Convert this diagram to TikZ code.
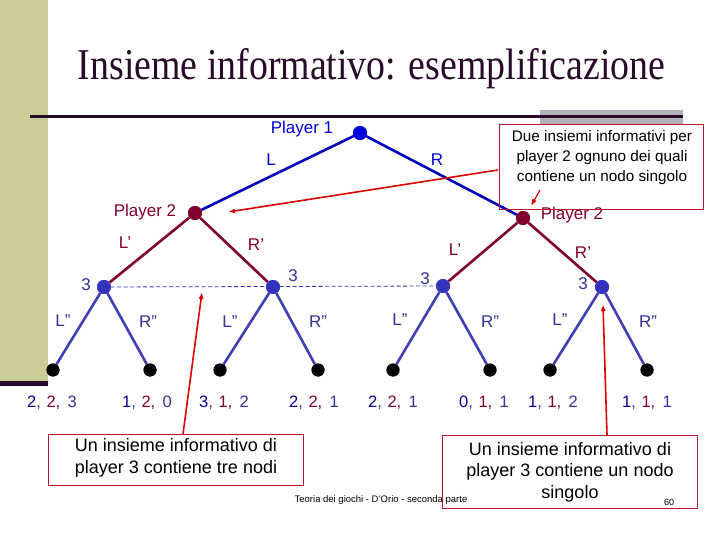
\documentclass[tikz,border=0pt]{standalone}
\usepackage{fontspec}
\usepackage{graphicx}
\setmainfont{Liberation Sans}
\newfontfamily\titlefont{Liberation Serif}
\usetikzlibrary{arrows.meta}
\definecolor{band}{RGB}{204,204,153}
\definecolor{darkline}{RGB}{42,10,42}
\definecolor{graybar}{RGB}{178,178,186}
\definecolor{pone}{RGB}{0,0,220}
\definecolor{ptwo}{RGB}{128,0,48}
\definecolor{pthree}{RGB}{51,51,190}
\definecolor{pthreeedge}{RGB}{64,64,180}
\definecolor{payA}{RGB}{0,0,150}
\definecolor{payB}{RGB}{128,0,48}
\definecolor{payC}{RGB}{51,51,153}
\definecolor{redarrow}{RGB}{220,0,0}
\definecolor{redbox}{RGB}{190,20,40}
\newcommand{\pay}[3]{{\color{payA}#1}{\color{payC},}\kern1pt\ {\color{payB}#2,}\ \,{\color{payC}#3}}
\tikzset{
  dot/.style={circle, inner sep=0pt, minimum size=14pt},
  ponenode/.style={dot, fill=pone},
  ptwonode/.style={dot, fill=ptwo},
  pthreenode/.style={dot, fill=pthree},
  leafnode/.style={dot, fill=black, minimum size=13pt},
  ponedge/.style={draw=pone!85!black, line width=2.6pt},
  ptwoedge/.style={draw=ptwo, line width=2.6pt},
  pthreeedge/.style={draw=pthreeedge, line width=2.6pt},
  lab/.style={font=\fontsize{17}{20}\selectfont, inner sep=0pt},
  paylab/.style={font=\fontsize{16.5}{20}\selectfont, inner sep=0pt},
  boxframe/.style={draw=redbox, line width=1pt, inner sep=0pt},
  redarr/.style={draw=redarrow, line width=1.6pt, -{Latex[length=7pt,width=5pt]}},
}
\begin{document}
\begin{tikzpicture}[x=1pt,y=-1pt]
\useasboundingbox (0,0) rectangle (720,540);
\fill[white] (0,0) rectangle (720,540);
% slide decoration
\fill[band] (0,0) rectangle (48,383);
\fill[darkline] (0,381) rectangle (48,386);
\fill[graybar] (540,110) rectangle (683,125);
\draw[darkline, line width=3pt] (30,117) -- (683,117);
% title
\node[inner sep=0pt, text=darkline] (title) at (371.5,69)
  {\scalebox{0.86}[1]{\titlefont\fontsize{44}{48}\selectfont Insieme informativo: esemplificazione}};

% tree nodes
\node[ponenode] (n1) at (360,133) {};
\node[ptwonode] (n2a) at (195,213) {};
\node[ptwonode] (n2b) at (523,218) {};
\node[pthreenode] (n3a) at (104,287) {};
\node[pthreenode] (n3b) at (273,287) {};
\node[pthreenode] (n3c) at (443,286) {};
\node[pthreenode] (n3d) at (602,287) {};
\foreach \i/\x in {1/53,2/150,3/220,4/318,5/393,6/490,7/550,8/647}
  \node[leafnode] (l\i) at (\x,370) {};

% information set (dashed)
\draw[pthree, line width=0.8pt, dash pattern=on 4pt off 2.5pt] (n3a.center) -- (n3c.center);

% edges
\draw[ponedge] (n1) -- (n2a);
\draw[ponedge] (n1) -- (n2b);
\draw[ptwoedge] (n2a) -- (n3a);
\draw[ptwoedge] (n2a) -- (n3b);
\draw[ptwoedge] (n2b) -- (n3c);
\draw[ptwoedge] (n2b) -- (n3d);
\draw[pthreeedge] (n3a) -- (l1);
\draw[pthreeedge] (n3a) -- (l2);
\draw[pthreeedge] (n3b) -- (l3);
\draw[pthreeedge] (n3b) -- (l4);
\draw[pthreeedge] (n3c) -- (l5);
\draw[pthreeedge] (n3c) -- (l6);
\draw[pthreeedge] (n3d) -- (l7);
\draw[pthreeedge] (n3d) -- (l8);
% redraw nodes on top
\node[ponenode] at (n1) {};
\node[ptwonode] at (n2a) {};
\node[ptwonode] at (n2b) {};
\foreach \n in {n3a,n3b,n3c,n3d} \node[pthreenode] at (\n) {};
\foreach \i in {1,...,8} \node[leafnode] at (l\i) {};

% labels
\node[lab, text=pone] (tp1) at (302,129) {Player 1};
\node[lab, text=pone] (tL) at (271,160) {L};
\node[lab, text=pone] (tR) at (437,160) {R};
\node[lab, text=ptwo] (tp2a) at (145,212) {Player 2};
\node[lab, text=ptwo] (tp2b) at (572,215) {Player 2};
\node[lab, text=ptwo] (tLa) at (125,243) {L’};
\node[lab, text=ptwo] (tRa) at (256,245) {R’};
\node[lab, text=ptwo] (tLb) at (455,250) {L’};
\node[lab, text=ptwo] (tRb) at (583,253) {R’};
\node[lab, text=payC] (t3a) at (86,285) {3};
\node[lab, text=payC] (t3b) at (293,276) {3};
\node[lab, text=payC] (t3c) at (425,279) {3};
\node[lab, text=payC] (t3d) at (583,284) {3};
\foreach \x/\y/\t in {63/321/L”,148/322/R”,230/322/L”,318/322/R”,400/320/L”,490/322/R”,560/320/L”,648/322/R”}
  \node[lab, text=payC] at (\x,\y) {\t};
% payoffs
\node[paylab] (pay1) at (52,403) {\pay{2}{2}{3}};
\node[paylab] (pay2) at (147,403) {\pay{1}{2}{0}};
\node[paylab] (pay3) at (224,403) {\pay{3}{1}{2}};
\node[paylab] (pay4) at (314,403) {\pay{2}{2}{1}};
\node[paylab] (pay5) at (393,403) {\pay{2}{2}{1}};
\node[paylab] (pay6) at (484,403) {\pay{0}{1}{1}};
\node[paylab] (pay7) at (553,403) {\pay{1}{1}{2}};
\node[paylab] (pay8) at (647,403) {\pay{1}{1}{1}};

% callout boxes
\node[boxframe, minimum width=204pt, minimum height=85pt] (box1) at (601,167.5) {};
\node[align=center, inner sep=0pt, font=\fontsize{15.3}{20}\selectfont] (box1t) at (602,158)
  {Due insiemi informativi per\\player 2 ognuno dei quali\\contiene un nodo singolo};
\node[boxframe, minimum width=255pt, minimum height=51pt] (box2) at (175.5,459.5) {};
\node[align=center, inner sep=0pt, font=\fontsize{18}{22}\selectfont] (box2t) at (176,458)
  {Un insieme informativo di\\player 3 contiene tre nodi};
\node[boxframe, minimum width=255pt, minimum height=73pt] (box3) at (569.5,471.5) {};
\node[align=center, inner sep=0pt, font=\fontsize{18}{21.5}\selectfont] (box3t) at (570,472)
  {Un insieme informativo di\\player 3 contiene un nodo\\singolo};

% arrows
\coordinate (a1s) at (498,170);
\coordinate (a1e) at (228,212);
\draw[redarr] (a1s) -- (a1e);
\coordinate (a2s) at (540,190);
\coordinate (a2e) at (531,206);
\draw[redarr, line width=1.2pt] (a2s) -- (a2e);
\coordinate (a3s) at (183,434);
\coordinate (a3e) at (202,292);
\draw[redarr] (a3s) -- (a3e);
\coordinate (a4s) at (607,435);
\coordinate (a4e) at (603,304);
\draw[redarr] (a4s) -- (a4e);

% footer
\node[inner sep=0pt, font=\fontsize{9.5}{10}\selectfont] (foot) at (381,500) {Teoria dei giochi - D'Orio - seconda parte};
\node[inner sep=0pt, font=\fontsize{9}{10}\selectfont] (pnum) at (669,502) {60};
\end{tikzpicture}
\end{document}
